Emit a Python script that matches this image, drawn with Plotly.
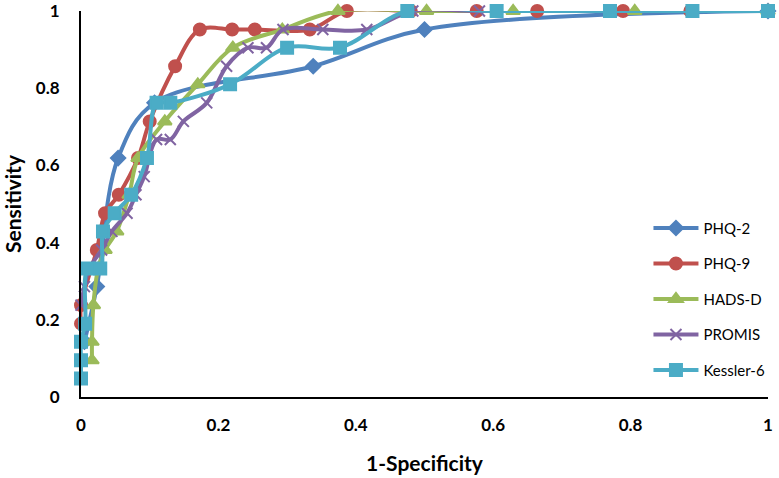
import plotly.graph_objects as go

phq2_x = [0.005, 0.023, 0.054, 0.107, 0.338, 0.5, 1.0]
phq2_y = [0.143, 0.286, 0.619, 0.762, 0.857, 0.952, 1.0]

phq9_x = [0.0, 0.0, 0.023, 0.035, 0.055, 0.083, 0.1, 0.137, 0.173, 0.22, 0.253, 0.333, 0.387, 0.48, 0.576, 0.664, 0.789, 0.887, 1.0]
phq9_y = [0.19, 0.238, 0.381, 0.476, 0.524, 0.619, 0.714, 0.857, 0.952, 0.952, 0.952, 0.952, 1.0, 1.0, 1.0, 1.0, 1.0, 1.0, 1.0]

hads_x = [0.016, 0.016, 0.018, 0.025, 0.035, 0.052, 0.07, 0.083, 0.122, 0.17, 0.221, 0.293, 0.374, 0.503, 0.629, 0.806, 1.0]
hads_y = [0.095, 0.143, 0.238, 0.333, 0.381, 0.429, 0.524, 0.619, 0.714, 0.81, 0.905, 0.952, 1.0, 1.0, 1.0, 1.0, 1.0]

promis_x = [0.0, 0.005, 0.012, 0.03, 0.045, 0.067, 0.08, 0.092, 0.11, 0.13, 0.149, 0.183, 0.212, 0.243, 0.27, 0.294, 0.352, 0.416, 0.483, 0.58, 1.0]
promis_y = [0.238, 0.286, 0.333, 0.381, 0.429, 0.476, 0.524, 0.571, 0.667, 0.667, 0.714, 0.762, 0.857, 0.905, 0.905, 0.952, 0.952, 0.952, 1.0, 1.0, 1.0]

k6_x = [0.0, 0.0, 0.0, 0.006, 0.01, 0.028, 0.032, 0.049, 0.073, 0.096, 0.11, 0.13, 0.217, 0.3, 0.377, 0.475, 0.605, 0.77, 0.89, 1.0]
k6_y = [0.048, 0.095, 0.143, 0.19, 0.333, 0.333, 0.429, 0.476, 0.524, 0.619, 0.762, 0.762, 0.81, 0.905, 0.905, 1.0, 1.0, 1.0, 1.0, 1.0]

series = [
    ("PHQ-2", phq2_x, phq2_y, "#4F81BD", "diamond", 11),
    ("PHQ-9", phq9_x, phq9_y, "#C0504D", "circle", 12),
    ("HADS-D", hads_x, hads_y, "#9BBB59", "triangle-up", 12),
    ("PROMIS", promis_x, promis_y, "#8064A2", "x-thin", 11),
    ("Kessler-6", k6_x, k6_y, "#4BACC6", "square", 12),
]

fig = go.Figure()
for name, xs, ys, col, sym, sz in series:
    fig.add_trace(go.Scatter(
        x=xs, y=ys, name=name, mode="lines+markers",
        line=dict(color=col, width=4, shape="spline", smoothing=1.0),
        marker=dict(symbol=sym, size=sz, color=col, line=dict(color=col, width=2)),
        legendgroup=name, cliponaxis=False,
    ))

fig.update_layout(
    width=779, height=478,
    margin=dict(l=81, r=11, t=11, b=81, autoexpand=False),
    paper_bgcolor="white", plot_bgcolor="white",
    font=dict(family="Lato, Open Sans, sans-serif", color="black"),
    legend=dict(x=0.826, y=0.48, xanchor="left", yanchor="top",
                font=dict(size=15, family="Lato, sans-serif"),
                bgcolor="rgba(0,0,0,0)", tracegroupgap=13, traceorder="grouped",
                itemwidth=45),
    xaxis=dict(range=[0, 1], dtick=0.2, tickformat="~g", showgrid=False, zeroline=False,
               showline=True, linecolor="black", linewidth=2, automargin=False,
               ticks="", ticklabelstandoff=12, ticklabeloverflow="allow",
               tickfont=dict(size=17, family="Lato, sans-serif", weight="bold"),
               title=dict(text="<b>1-Specificity</b>", font=dict(size=21), standoff=22)),
    yaxis=dict(range=[0, 1], dtick=0.2, tickformat="~g", showgrid=False, zeroline=False,
               showline=True, linecolor="black", linewidth=2, automargin=False,
               ticks="", ticklabelstandoff=16, ticklabeloverflow="allow",
               tickfont=dict(size=17, family="Lato, sans-serif", weight="bold"),
               title=dict(text="<b>Sensitivity</b>", font=dict(size=21), standoff=14)),
)

fig.write_html("out.html", config={"displayModeBar": False},
               post_script="document.body.style.margin='0';document.body.style.overflow='hidden';")
